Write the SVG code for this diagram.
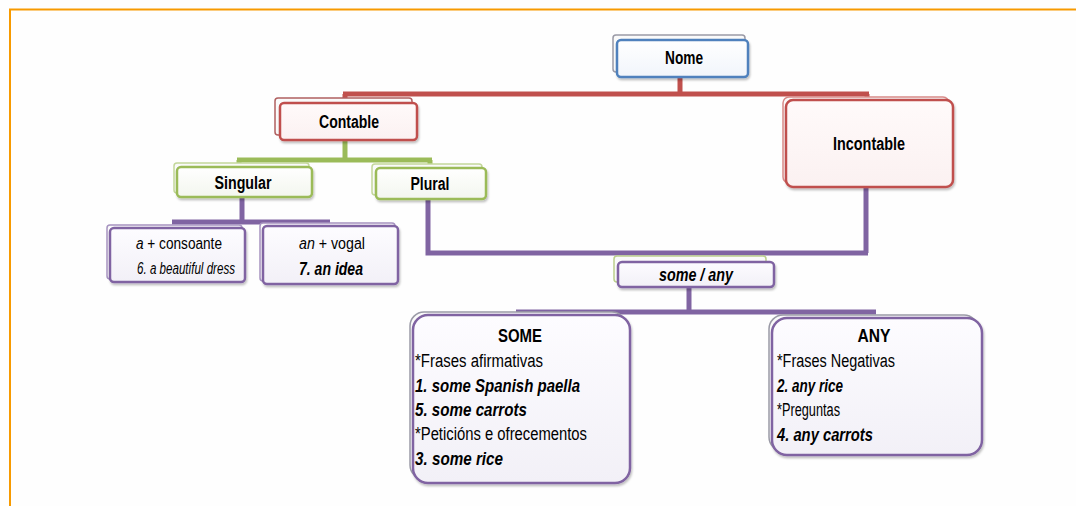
<svg xmlns="http://www.w3.org/2000/svg" width="1076" height="506" viewBox="0 0 1076 506">
  <defs>
    <filter id="shadow" x="-10%" y="-10%" width="120%" height="130%">
      <feDropShadow dx="1" dy="2" stdDeviation="1.2" flood-color="#000" flood-opacity="0.25"/>
    </filter>
    <linearGradient id="gBlue" x1="0" y1="0" x2="0" y2="1">
      <stop offset="0" stop-color="#ffffff"/><stop offset="1" stop-color="#f1f5fb"/>
    </linearGradient>
    <linearGradient id="gRed" x1="0" y1="0" x2="0" y2="1">
      <stop offset="0" stop-color="#fffafa"/><stop offset="1" stop-color="#fbf1f1"/>
    </linearGradient>
    <linearGradient id="gGreen" x1="0" y1="0" x2="0" y2="1">
      <stop offset="0" stop-color="#ffffff"/><stop offset="1" stop-color="#f3f6ee"/>
    </linearGradient>
    <linearGradient id="gPurple" x1="0" y1="0" x2="0" y2="1">
      <stop offset="0" stop-color="#fdfcff"/><stop offset="1" stop-color="#f2f0f7"/>
    </linearGradient>
  </defs>
  <style>
    text { font-family: "Liberation Sans Narrow", "Liberation Sans", Arial, sans-serif; fill: #000; }
    .t { font-size: 18px; font-weight: bold; text-anchor: middle; }
    .back { fill: #fafafa; stroke-width: 1.5; }
    .front { stroke-width: 2.5; filter: url(#shadow); }
    .blue { stroke: #4f81bd; fill: url(#gBlue); }
    .red { stroke: #c0504d; fill: url(#gRed); }
    .green { stroke: #9bbb59; fill: url(#gGreen); }
    .purple { stroke: #8064a2; fill: url(#gPurple); }
    .b { font-size: 18px; }
    .bi { font-weight: bold; font-style: italic; }
    .it { font-style: italic; }
    .conn { fill: none; stroke-width: 5; stroke-linecap: butt; }
  </style>

  <rect width="1076" height="506" fill="#fefefe"/>
  <!-- page frame -->
  <path d="M10,506 V9.5 H1076" fill="none" stroke="#f79a00" stroke-width="2"/>

  <!-- connectors -->
  <g id="connectors">
    <path class="conn" stroke="#c0504d" d="M680,77 V94 M343,94 H869 M345,94 V100 M867,94 V98"/>
    <path class="conn" stroke="#9bbb59" d="M345,140 V160 M237,160 H432 M239,160 V164 M430,160 V165"/>
    <path class="conn" stroke="#8064a2" d="M242,197 V222 M172,222 H330"/>
    <path class="conn" stroke="#8064a2" d="M428,199 V253 H868 M866,187 V253"/>
    <path class="conn" stroke="#8064a2" d="M689,287 V312 M516,312 H876"/>
  </g>

  <!-- Nome -->
  <g id="node-nome">
    <rect class="back" x="613" y="35" width="132" height="37" rx="3" stroke="#9a9aa6"/>
    <rect class="front blue" x="617" y="40" width="131" height="37" rx="4"/>
    <text class="t" x="684" y="64" textLength="38" lengthAdjust="spacingAndGlyphs">Nome</text>
  </g>

  <!-- Contable -->
  <g id="node-contable">
    <rect class="back" x="275" y="98" width="137" height="37" rx="3" stroke="#b06060"/>
    <rect class="front red" x="280" y="103" width="137" height="37" rx="4"/>
    <text class="t" x="349" y="128" textLength="60" lengthAdjust="spacingAndGlyphs">Contable</text>
  </g>

  <!-- Incontable -->
  <g id="node-incontable">
    <rect class="back" x="783" y="97" width="166" height="86" rx="6" stroke="#d88a88"/>
    <rect class="front red" x="786" y="100" width="167" height="87" rx="7"/>
    <text class="t" x="869" y="150" font-size="19" textLength="72" lengthAdjust="spacingAndGlyphs">Incontable</text>
  </g>

  <!-- Singular -->
  <g id="node-singular">
    <rect class="back" x="174" y="163" width="135" height="30" rx="3" stroke="#c3d79a"/>
    <rect class="front green" x="177" y="167" width="135" height="30" rx="4"/>
    <text class="t" x="243" y="189" textLength="57" lengthAdjust="spacingAndGlyphs">Singular</text>
  </g>

  <!-- Plural -->
  <g id="node-plural">
    <rect class="back" x="372" y="164" width="110" height="31" rx="3" stroke="#c3d79a"/>
    <rect class="front green" x="376" y="168" width="110" height="31" rx="4"/>
    <text class="t" x="430" y="190" textLength="39" lengthAdjust="spacingAndGlyphs">Plural</text>
  </g>

  <!-- a + consoante -->
  <g id="node-a-consoante">
    <rect class="back" x="107" y="225" width="135" height="54" rx="3" stroke="#a693c0"/>
    <rect class="front purple" x="110" y="228" width="135" height="54" rx="4"/>
    <text x="136" y="249" font-size="16" textLength="86" lengthAdjust="spacingAndGlyphs"><tspan class="it">a</tspan> + consoante</text>
    <text x="137" y="274" font-size="16" class="it" textLength="98" lengthAdjust="spacingAndGlyphs">6. a beautiful dress</text>
  </g>

  <!-- an + vogal -->
  <g id="node-an-vogal">
    <rect class="back" x="260" y="223" width="135" height="58" rx="3" stroke="#a693c0"/>
    <rect class="front purple" x="263" y="226" width="135" height="58" rx="4"/>
    <text x="299" y="249" font-size="16" textLength="66" lengthAdjust="spacingAndGlyphs"><tspan class="it">an</tspan> + vogal</text>
    <text x="299" y="275" font-size="19" class="bi" textLength="64" lengthAdjust="spacingAndGlyphs">7. an idea</text>
  </g>

  <!-- some / any -->
  <g id="node-some-any">
    <rect class="back" x="614" y="256" width="152" height="26" rx="3" stroke="#bcd08c"/>
    <rect class="front purple" x="618" y="262" width="156" height="25" rx="4"/>
    <text x="659" y="281" font-size="18" class="bi" textLength="74" lengthAdjust="spacingAndGlyphs">some / any</text>
  </g>

  <!-- SOME -->
  <g id="node-some">
    <rect class="back" x="410" y="312" width="216" height="167" rx="14" stroke="#9a9aa6"/>
    <rect class="front purple" x="413" y="315" width="217" height="168" rx="15"/>
    <text x="520" y="342" class="t" textLength="44" lengthAdjust="spacingAndGlyphs">SOME</text>
    <text x="415" y="367" class="b" textLength="128" lengthAdjust="spacingAndGlyphs">*Frases afirmativas</text>
    <text x="415" y="392" class="b bi" textLength="165" lengthAdjust="spacingAndGlyphs">1. some Spanish paella</text>
    <text x="415" y="416" class="b bi" textLength="112" lengthAdjust="spacingAndGlyphs">5. some carrots</text>
    <text x="415" y="440" class="b" textLength="172" lengthAdjust="spacingAndGlyphs">*Peticións e ofrecementos</text>
    <text x="415" y="465" class="b bi" textLength="88" lengthAdjust="spacingAndGlyphs">3. some rice</text>
  </g>

  <!-- ANY -->
  <g id="node-any">
    <rect class="back" x="769" y="315" width="209" height="136" rx="14" stroke="#9a9aa6"/>
    <rect class="front purple" x="772" y="318" width="210" height="137" rx="15"/>
    <text x="874" y="342" class="t" textLength="33" lengthAdjust="spacingAndGlyphs">ANY</text>
    <text x="777" y="367" class="b" textLength="118" lengthAdjust="spacingAndGlyphs">*Frases Negativas</text>
    <text x="777" y="392" class="b bi" textLength="66" lengthAdjust="spacingAndGlyphs">2. any rice</text>
    <text x="777" y="416" class="b" textLength="63" lengthAdjust="spacingAndGlyphs">*Preguntas</text>
    <text x="777" y="441" class="b bi" textLength="96" lengthAdjust="spacingAndGlyphs">4. any carrots</text>
  </g>
</svg>
